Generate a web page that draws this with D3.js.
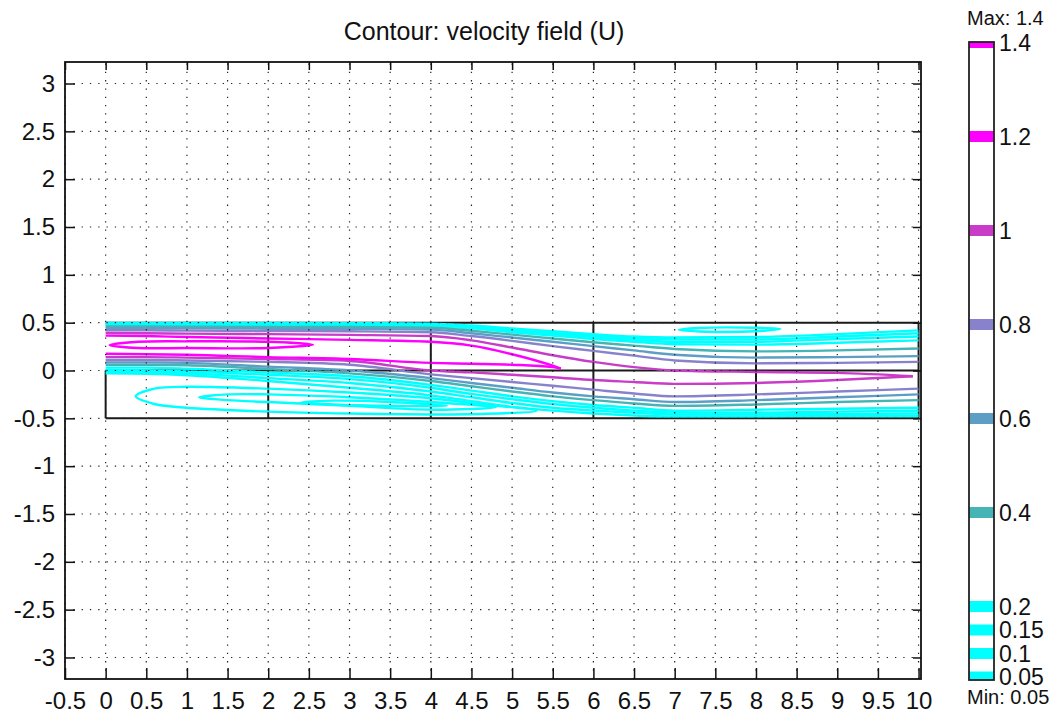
<!DOCTYPE html>
<meta charset="utf-8">
<style>
body { margin: 0; background: #fff; }
text { font-family: "Liberation Sans", Arial, sans-serif; fill: #111; }
</style>
<svg width="1057" height="717"></svg>
<script src="https://d3js.org/d3.v7.min.js"></script>
<script>

// tick labels
var xTicks = [-0.5, 0, 0.5, 1, 1.5, 2, 2.5, 3, 3.5, 4, 4.5, 5, 5.5, 6, 6.5, 7, 7.5, 8, 8.5, 9, 9.5, 10];
var yTicks = [-3, -2.5, -2, -1.5, -1, -0.5, 0, 0.5, 1, 1.5, 2, 2.5, 3];

// contour levels shown in the colour bar
var levels = [0.05, 0.1, 0.15, 0.2, 0.4, 0.6, 0.8, 1.0, 1.2, 1.4];
var levelColors = ["#00ffff", "#00ffff", "#00ffff", "#00ffff", "#46b4b4", "#5c9ec4", "#8882cc", "#c83cc8", "#ff00ff", "#ff00ff"];

var stations = [0, 0.5, 1, 2, 3, 4, 4.5, 5, 5.5, 6, 6.5, 7, 8, 9, 10];

// y of each level above the jet core (levels 0.05 .. 1.2)
var upperY = [
  [0.497, 0.497, 0.497, 0.496, 0.495, 0.49, 0.47, 0.44, 0.41, 0.38, 0.355, 0.345, 0.35, 0.38, 0.42],
  [0.49, 0.49, 0.49, 0.488, 0.486, 0.48, 0.46, 0.43, 0.395, 0.365, 0.34, 0.325, 0.325, 0.355, 0.39],
  [0.482, 0.482, 0.482, 0.48, 0.478, 0.472, 0.45, 0.415, 0.38, 0.35, 0.32, 0.30, 0.30, 0.33, 0.355],
  [0.474, 0.474, 0.474, 0.472, 0.47, 0.463, 0.44, 0.40, 0.365, 0.33, 0.30, 0.275, 0.27, 0.29, 0.315],
  [0.46, 0.46, 0.458, 0.456, 0.454, 0.447, 0.415, 0.375, 0.335, 0.295, 0.26, 0.225, 0.20, 0.21, 0.23],
  [0.443, 0.443, 0.44, 0.437, 0.434, 0.427, 0.39, 0.345, 0.30, 0.255, 0.21, 0.165, 0.135, 0.14, 0.15],
  [0.42, 0.42, 0.417, 0.413, 0.41, 0.40, 0.36, 0.31, 0.255, 0.205, 0.155, 0.105, 0.075, 0.08, 0.09],
  [0.392, 0.39, 0.385, 0.38, 0.372, 0.36, 0.315, 0.24, 0.16, 0.09, 0.035, 0.0, -0.015, -0.025],
  [0.365, 0.36, 0.35, 0.335, 0.32, 0.30, 0.26, 0.17, 0.05]
];

// y of each level below the jet core (levels 0.05 .. 1.2)
var lowerY = [
  [-0.03, -0.035, -0.05, -0.11, -0.18, -0.26, -0.32, -0.38, -0.42, -0.45, -0.47, -0.48, -0.48, -0.475, -0.475],
  [-0.01, -0.02, -0.03, -0.08, -0.13, -0.22, -0.28, -0.34, -0.39, -0.42, -0.44, -0.46, -0.46, -0.455, -0.45],
  [0.005, 0.0, -0.01, -0.045, -0.09, -0.18, -0.245, -0.30, -0.35, -0.39, -0.42, -0.44, -0.44, -0.43, -0.42],
  [0.03, 0.03, 0.02, -0.02, -0.06, -0.15, -0.21, -0.27, -0.32, -0.36, -0.39, -0.42, -0.41, -0.40, -0.39],
  [0.06, 0.06, 0.055, 0.015, -0.03, -0.11, -0.165, -0.22, -0.27, -0.31, -0.345, -0.37, -0.355, -0.33, -0.31],
  [0.085, 0.085, 0.08, 0.04, 0.0, -0.08, -0.13, -0.18, -0.23, -0.27, -0.30, -0.33, -0.31, -0.28, -0.25],
  [0.11, 0.11, 0.105, 0.09, 0.06, -0.04, -0.08, -0.12, -0.16, -0.20, -0.24, -0.27, -0.25, -0.22, -0.19],
  [0.14, 0.14, 0.135, 0.12, 0.10, 0.0, -0.02, -0.045, -0.07, -0.10, -0.12, -0.14, -0.13, -0.10],
  [0.175, 0.17, 0.165, 0.14, 0.12, 0.08, 0.07, 0.06, 0.035]
];

// where the upper and lower branch of a level meet (null = runs to the outlet)
var closeX = [null, null, null, null, null, null, null, 9.93, 5.6];
var closeY = [null, null, null, null, null, null, null, -0.06, 0.02];

// closed contours: 1.4 core near inlet, slow recirculation cells
var loopLevels = [1.4, 0.05, 0.1, 0.15, 0.05];
var loopPoints = [
  [[0.05, 0.265], [0.4, 0.30], [1, 0.305], [2, 0.30], [2.55, 0.27], [2, 0.235], [1, 0.235], [0.4, 0.235]],
  [[0.37, -0.27], [0.6, -0.19], [1, -0.17], [2, -0.19], [3, -0.23], [4, -0.29], [4.6, -0.35], [5.3, -0.42], [4.6, -0.455], [4, -0.46], [3, -0.45], [2, -0.43], [1, -0.39], [0.6, -0.35]],
  [[1.15, -0.28], [1.5, -0.25], [2, -0.25], [3, -0.28], [4, -0.33], [4.8, -0.385], [4, -0.41], [3, -0.37], [2, -0.33], [1.5, -0.31]],
  [[2.4, -0.335], [2.8, -0.315], [3.5, -0.33], [4.2, -0.37], [3.5, -0.37], [2.8, -0.355]],
  [[7.05, 0.425], [7.3, 0.445], [8.0, 0.447], [8.3, 0.435], [8.0, 0.41], [7.3, 0.408]]
];

// subdomain edges of the geometry
var geomSegments = [
  [[0, -0.5], [10, -0.5]], [[0, 0.5], [10, 0.5]], [[0, -0.5], [0, 0]], [[10, -0.5], [10, 0.5]],
  [[0, 0], [10, 0]], [[2, -0.5], [2, 0.5]], [[4, -0.5], [4, 0.5]], [[6, -0.5], [6, 0.5]], [[8, -0.5], [8, 0.5]]
];

var svg = d3.select("svg");
var plotL = 65, plotR = 921, plotT = 62, plotB = 679;

var x = d3.scaleLinear().domain([-0.5, 10.03]).range([plotL, plotR]);
var y = d3.scaleLinear().domain([-3.225, 3.225]).range([plotB, plotT]);

svg.append("rect").attr("width", 1057).attr("height", 717).attr("fill", "#fff");

// geometry
var line = d3.line().x(function(d) { return x(d[0]); }).y(function(d) { return y(d[1]); });
svg.append("g").selectAll("path")
  .data(geomSegments).enter().append("path")
  .attr("d", line)
  .attr("stroke", "#1a1a1a").attr("stroke-width", 2).attr("fill", "none");

// contour branches
var branch = d3.line().x(function(d) { return x(d[0]); }).y(function(d) { return y(d[1]); })
  .curve(d3.curveMonotoneX);
var branches = [];
upperY.forEach(function(ys, i) {
  [ys, lowerY[i]].forEach(function(arr) {
    var pts = arr.map(function(v, j) { return [stations[j], v]; });
    if (closeX[i] != null) pts.push([closeX[i], closeY[i]]);
    branches.push({ level: i, pts: pts });
  });
});
var cg = svg.append("g").attr("fill", "none").attr("stroke-width", 2.4).attr("stroke-linejoin", "round");
cg.selectAll("path.b")
  .data(branches).enter().append("path")
  .attr("class", "b")
  .attr("d", function(d) { return branch(d.pts); })
  .attr("stroke", function(d) { return levelColors[d.level]; });

var loop = d3.line().x(function(d) { return x(d[0]); }).y(function(d) { return y(d[1]); })
  .curve(d3.curveCatmullRomClosed.alpha(0.5));
cg.selectAll("path.l")
  .data(loopPoints).enter().append("path")
  .attr("class", "l")
  .attr("d", loop)
  .attr("stroke", function(d, i) { return levelColors[levels.indexOf(loopLevels[i])]; });

// dotted grid on top
var grid = svg.append("g").attr("stroke", "#222").attr("stroke-width", 1.2).attr("stroke-dasharray", "1.3,7");
grid.selectAll("line.vx").data(xTicks).enter().append("line")
  .attr("x1", function(d) { return x(d); }).attr("x2", function(d) { return x(d); })
  .attr("y1", plotB).attr("y2", plotT);
grid.selectAll("line.hy").data(yTicks).enter().append("line")
  .attr("y1", function(d) { return y(d); }).attr("y2", function(d) { return y(d); })
  .attr("x1", plotL).attr("x2", plotR);

// axes, ticks pointing inward
function styleAxis(g) {
  g.select(".domain").remove();
  g.selectAll("line").attr("stroke", "#111").attr("stroke-width", 1.5);
  g.selectAll("text").attr("font-size", 24).attr("font-family", "Liberation Sans, Arial, sans-serif").attr("fill", "#111");
}
svg.append("g").attr("transform", "translate(0," + plotB + ")")
  .call(d3.axisBottom(x).tickValues(xTicks).tickFormat(function(d) { return String(d); })
    .tickSizeInner(-11).tickSizeOuter(0).tickPadding(13))
  .call(styleAxis);
svg.append("g").attr("transform", "translate(" + plotL + ",0)")
  .call(d3.axisLeft(y).tickValues(yTicks).tickFormat(function(d) { return String(d); })
    .tickSizeInner(-10).tickSizeOuter(0).tickPadding(10))
  .call(styleAxis);
svg.append("g").attr("transform", "translate(0," + plotT + ")")
  .call(d3.axisTop(x).tickValues(xTicks).tickFormat("").tickSizeInner(-8).tickSizeOuter(0))
  .call(styleAxis);
svg.append("g").attr("transform", "translate(" + plotR + ",0)")
  .call(d3.axisRight(y).tickValues(yTicks).tickFormat("").tickSizeInner(-8).tickSizeOuter(0))
  .call(styleAxis);

svg.append("rect")
  .attr("x", plotL).attr("y", plotT).attr("width", plotR - plotL).attr("height", plotB - plotT)
  .attr("fill", "none").attr("stroke", "#111").attr("stroke-width", 1.8);

svg.append("text")
  .attr("x", 484).attr("y", 40)
  .attr("text-anchor", "middle").attr("font-size", 25)
  .text("Contour: velocity field (U)");

// colour bar
var cbLeft = 969, cbRight = 994, cbTop = 42, cbBottom = 680;
var cb = d3.scaleLinear().domain([0.05, 1.4]).range([677, 42.5]);
var bar = svg.append("g");
bar.append("rect")
  .attr("x", cbLeft).attr("y", cbTop).attr("width", cbRight - cbLeft).attr("height", cbBottom - cbTop)
  .attr("fill", "#fff");
bar.selectAll("rect.band").data(levels).enter().append("rect")
  .attr("class", "band")
  .attr("x", cbLeft)
  .attr("width", cbRight - cbLeft)
  .attr("y", function(d) { return Math.max(cbTop, cb(d) - 5.5); })
  .attr("height", function(d) { return Math.min(cbBottom, cb(d) + 5.5) - Math.max(cbTop, cb(d) - 5.5); })
  .attr("fill", function(d, i) { return levelColors[i]; });
bar.append("rect")
  .attr("x", cbLeft).attr("y", cbTop).attr("width", cbRight - cbLeft).attr("height", cbBottom - cbTop)
  .attr("fill", "none").attr("stroke", "#222").attr("stroke-width", 1.8);
bar.selectAll("text.lab").data(levels).enter().append("text")
  .attr("class", "lab")
  .attr("x", 999).attr("y", function(d) { return cb(d); })
  .attr("dy", "0.36em").attr("font-size", 23)
  .text(function(d) { return String(d); });
bar.append("text").attr("x", 967).attr("y", 25).attr("font-size", 20).text("Max: " + d3.max(levels));
bar.append("text").attr("x", 967).attr("y", 704).attr("font-size", 20).text("Min: " + d3.min(levels));

</script>
